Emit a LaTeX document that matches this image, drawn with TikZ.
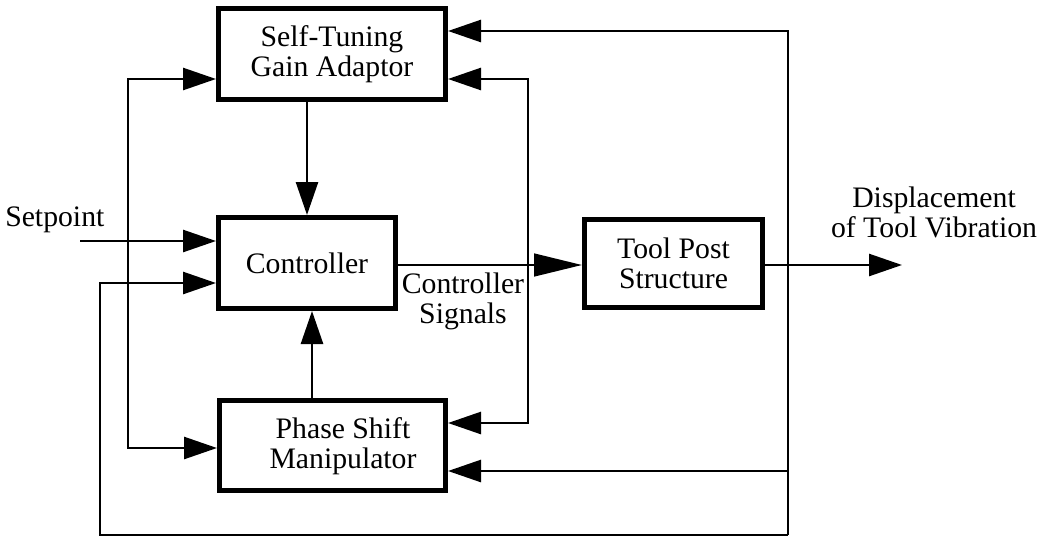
\documentclass[tikz,border=0pt]{standalone}
\usepackage{fontspec}
\setmainfont{Liberation Serif}
\usetikzlibrary{arrows.meta,calc}
\begin{document}
\begin{tikzpicture}[x=0.75pt,y=-0.75pt,
  every node/.style={font=\fontsize{22.3}{22.5}\selectfont},
  blockbox/.style={draw, line width=3.75pt, inner sep=0pt, align=center},
  wire/.style={line width=1.95pt},
  arr/.style={wire, -{Triangle[length=24.75pt,width=16.5pt]}},
  barr/.style={wire, {Triangle[length=24.75pt,width=16.5pt]}-{Triangle[length=24.75pt,width=16.5pt]}},
  bigarr/.style={wire, -{Triangle[length=36pt,width=17pt]}},
]
\useasboundingbox (0,0) rectangle (1038,539);

% blocks
\node[blockbox, minimum width=170.25pt, minimum height=68.25pt] (st) at (332,54) {Self-Tuning\\Gain Adaptor};
\node[blockbox, minimum width=132.75pt, minimum height=68.25pt] (c) at (307,263) {Controller};
\node[blockbox, minimum width=169.5pt, minimum height=67.5pt] (psm) at (332.5,445.5) {};
\node[align=center, inner sep=0pt] (psmtext) at (343,446) {Phase Shift\\Manipulator};
\node[blockbox, minimum width=133.5pt, minimum height=66pt] (tp) at (673.5,263.5) {Tool Post\\Structure};

% labels
\node[anchor=base west, inner sep=0pt] (sp) at (5,226) {Setpoint};
\node[align=center, inner sep=0pt] (cs) at (463,301) {Controller\\Signals};
\node[align=center, inner sep=0pt] (disp) at (934,212) {Displacement\\of Tool Vibration};

% helper points
\coordinate (pcx) at (312,0);
\coordinate (spin) at (80,241);
\coordinate (tapT) at (788,31);
\coordinate (tapB) at (788,535);
\coordinate (tapP) at (788,471);
\coordinate (fbL) at (100,535);
\coordinate (lbus) at (128,0);
\coordinate (rbus) at (528,0);
\coordinate (outend) at (902,265);
\coordinate (stL) at ($(st.west)+(0,25)$);
\coordinate (stR) at ($(st.east)+(0,25)$);
\coordinate (psmL) at ($(psm.west)+(0,2.5)$);
\coordinate (psmR) at ($(psm.east)+(0,-22.5)$);

% gain adaptor and phase shifter into the controller
\draw[arr] (st.south -| c.north) -- (c.north);
\draw[arr] (pcx |- psm.north) -- (pcx |- c.south);

% setpoint
\draw[arr] (spin) -- (spin -| c.west);

% setpoint bus and controller-signal bus
\draw[barr] (stL) -- (lbus |- stL) -- (lbus |- psmL) -- (psmL);
\draw[barr] (stR) -- (rbus |- stR) -- (rbus |- psmR) -- (psmR);

% plant path
\draw[bigarr] (c.east |- outend) -- (tp.west |- outend);
\draw[arr] (outend -| tp.east) -- (outend);

% displacement feedback
\draw[arr] (tapB) -- (tapT) -- (tapT -| st.east);
\draw[arr] (tapP) -- (tapP -| psm.east);
\draw[arr] (tapB) -- (fbL) |- ($(c.west)+(0,20)$);
\end{tikzpicture}
\end{document}
